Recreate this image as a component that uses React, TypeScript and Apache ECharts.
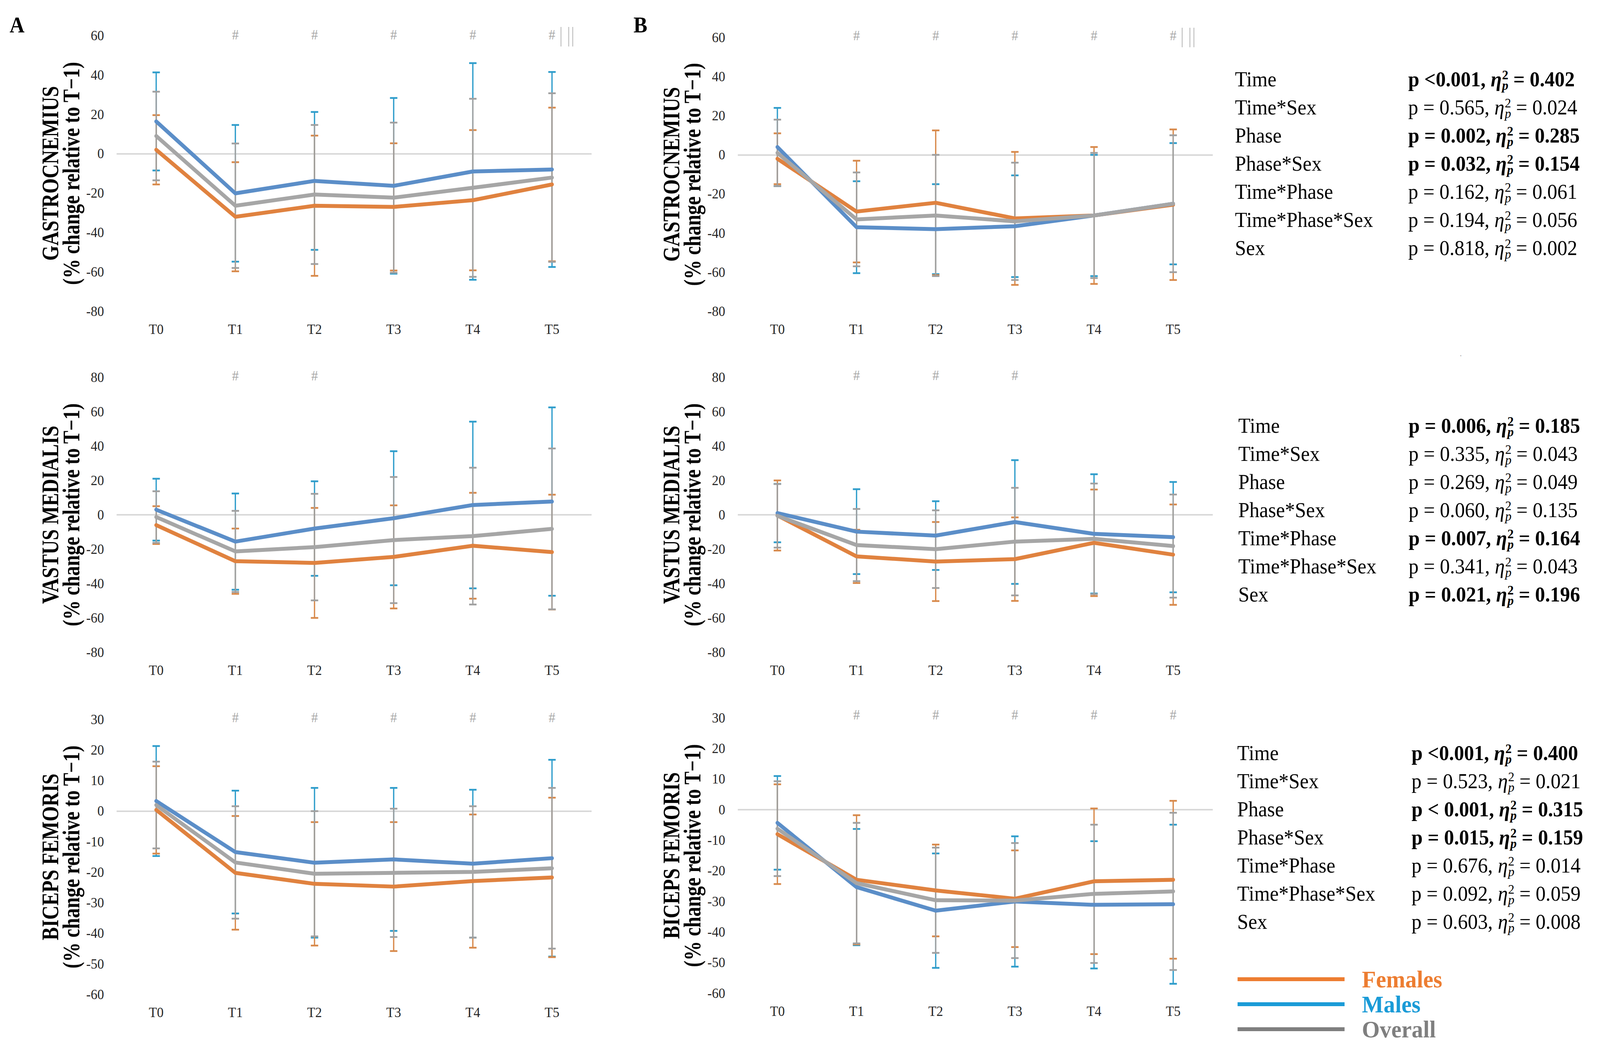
import React, { useEffect, useLayoutEffect, useRef, useState } from 'react';
import * as echarts from 'echarts';

const categories = ['T0', 'T1', 'T2', 'T3', 'T4', 'T5'];

// ---- Gastrocnemius, panel A
const gaFemMean = [2, -32, -26.4, -27, -23.6, -15.6];
const gaFemSd = [17.6, 27.7, 35.6, 32.3, 35.6, 39];
const gaMalMean = [16.4, -20.1, -13.8, -16.3, -9, -8];
const gaMalSd = [24.9, 34.7, 35, 44.6, 55, 49.5];
const gaAllMean = [9, -26.4, -20.7, -22.3, -17.3, -12.1];
const gaAllSd = [22.5, 31.6, 35.3, 38.1, 45.2, 42.8];
const gaMarks = ['', '#', '#', '#', '#', '#|‖'];

// ---- Gastrocnemius, panel B
const gbFemMean = [-2, -29, -24.5, -32.5, -31, -25.5];
const gbFemSd = [13, 26, 37, 34, 35, 38.5];
const gbMalMean = [4, -37, -38, -36.5, -31, -25];
const gbMalSd = [20, 23.5, 23, 26, 31, 31];
const gbAllMean = [1, -33, -31, -34, -31, -25];
const gbAllSd = [17, 24, 31, 30, 32, 35];
const gbMarks = ['', '#', '#', '#', '#', '#|‖'];

// ---- Vastus medialis, panel A
const vaFemMean = [-6, -27, -28, -24.5, -18, -21.7];
const vaFemSd = [11, 19, 32, 30, 30.8, 33.4];
const vaMalMean = [3, -15.6, -8, -2, 5.7, 7.7];
const vaMalSd = [18, 28, 27.5, 39, 48.5, 54.8];
const vaAllMean = [-1.3, -21.3, -18.8, -14.7, -12.4, -8.2];
const vaAllSd = [15, 23.6, 31, 36.7, 39.8, 46.8];
const vaMarks = ['', '#', '#', '', '', ''];

// ---- Vastus medialis, panel B
const vbFemMean = [-0.4, -24.2, -27.2, -25.8, -16.3, -23.2];
const vbFemSd = [20.4, 15.5, 23, 24.3, 31, 29.2];
const vbMalMean = [1, -9.8, -12.1, -4.2, -11.1, -13];
const vbMalSd = [17, 24.7, 20, 36, 34.7, 32.1];
const vbAllMean = [-0.6, -17.6, -20, -15.6, -14, -18.2];
const vbAllSd = [18.5, 21, 22.6, 31.3, 32.2, 30];
const vbMarks = ['', '#', '#', '#', '', ''];

// ---- Biceps femoris, panel A
const baFemMean = [0.4, -20.2, -23.8, -24.7, -22.9, -21.7];
const baFemSd = [14.3, 18.6, 20.2, 21.1, 21.8, 26.1];
const baMalMean = [3.3, -13.4, -16.9, -15.8, -17.2, -15.4];
const baMalSd = [18, 20.1, 24.5, 23.4, 24.2, 32.2];
const baAllMean = [2, -16.8, -20.5, -20.2, -19.9, -18.7];
const baAllSd = [14.2, 18.4, 20.5, 21, 21.5, 26.3];
const baMarks = ['', '#', '#', '#', '#', '#'];

// ---- Biceps femoris, panel B
const bbFemMean = [-8, -22.9, -26.4, -29.1, -23.4, -22.9];
const bbFemSd = [16.3, 21.1, 15, 15.8, 23.8, 25.8];
const bbMalMean = [-4.3, -25.3, -33, -30, -31.1, -30.9];
const bbMalSd = [15.3, 19, 18.7, 21.3, 20.8, 26];
const bbAllMean = [-6.2, -24, -29.6, -29.7, -27.5, -26.7];
const bbAllSd = [15.5, 19.7, 17.2, 18.8, 22.6, 25.7];
const bbMarks = ['', '#', '#', '#', '#', '#'];

// ---- Statistics tables
const statLabels = ['Time', 'Time*Sex', 'Phase', 'Phase*Sex', 'Time*Phase', 'Time*Phase*Sex', 'Sex'];
const gaStatP = ['p <0.001', 'p = 0.565', 'p = 0.002', 'p = 0.032', 'p = 0.162', 'p = 0.194', 'p = 0.818'];
const gaStatEta = ['0.402', '0.024', '0.285', '0.154', '0.061', '0.056', '0.002'];
const gaStatBold = [true, false, true, true, false, false, false];
const vmStatP = ['p = 0.006', 'p = 0.335', 'p = 0.269', 'p = 0.060', 'p = 0.007', 'p = 0.341', 'p = 0.021'];
const vmStatEta = ['0.185', '0.043', '0.049', '0.135', '0.164', '0.043', '0.196'];
const vmStatBold = [true, false, false, false, true, false, true];
const bfStatP = ['p <0.001', 'p = 0.523', 'p < 0.001', 'p = 0.015', 'p = 0.676', 'p = 0.092', 'p = 0.603'];
const bfStatEta = ['0.400', '0.021', '0.315', '0.159', '0.014', '0.059', '0.008'];
const bfStatBold = [true, false, true, true, false, false, false];

const legendNames = ['Females', 'Males', 'Overall'];

// ---- Styles / layout
const W = 4322;
const H = 2678;
const FONT = '"Liberation Serif", "Times New Roman", serif';
const C = {
  femLine: '#E0823F',
  malLine: '#5B8EC8',
  allLine: '#A6A6A6',
  femBar: '#D88A4C',
  malBar: '#2F9DCB',
  allBar: '#A0A0A0',
  femLegend: '#ED7D31',
  malLegend: '#1A9BD7',
  allLegend: '#7F7F7F',
  label: '#262626',
  mark: '#8E8E8E',
  bars: '#B5B5B5',
};
const GRID_W = 1283;

const panels = [
  { muscle: 'GASTROCNEMIUS', left: 315, top: 91, height: 706, min: -80, max: 60, interval: 20, markDy: -2,
    fm: gaFemMean, fs: gaFemSd, mm: gaMalMean, ms: gaMalSd, am: gaAllMean, as: gaAllSd, marks: gaMarks },
  { muscle: 'GASTROCNEMIUS', left: 1993, top: 96, height: 701, min: -80, max: 60, interval: 20, markDy: -5,
    fm: gbFemMean, fs: gbFemSd, mm: gbMalMean, ms: gbMalSd, am: gbAllMean, as: gbAllSd, marks: gbMarks },
  { muscle: 'VASTUS MEDIALIS', left: 315, top: 966, height: 704, min: -80, max: 80, interval: 20, markDy: -4,
    fm: vaFemMean, fs: vaFemSd, mm: vaMalMean, ms: vaMalSd, am: vaAllMean, as: vaAllSd, marks: vaMarks },
  { muscle: 'VASTUS MEDIALIS', left: 1993, top: 966, height: 704, min: -80, max: 80, interval: 20, markDy: -5,
    fm: vbFemMean, fs: vbFemSd, mm: vbMalMean, ms: vbMalSd, am: vbAllMean, as: vbAllSd, marks: vbMarks },
  { muscle: 'BICEPS FEMORIS', left: 315, top: 1842, height: 704, min: -60, max: 30, interval: 10, markDy: -5,
    fm: baFemMean, fs: baFemSd, mm: baMalMean, ms: baMalSd, am: baAllMean, as: baAllSd, marks: baMarks },
  { muscle: 'BICEPS FEMORIS', left: 1993, top: 1838, height: 705, min: -60, max: 30, interval: 10, markDy: -8,
    fm: bbFemMean, fs: bbFemSd, mm: bbMalMean, ms: bbMalSd, am: bbAllMean, as: bbAllSd, marks: bbMarks },
];

const tables = [
  { labelX: 3336, valX: 3804, y0: 203, p: gaStatP, eta: gaStatEta, bold: gaStatBold },
  { labelX: 3345, valX: 3805, y0: 1090, p: vmStatP, eta: vmStatEta, bold: vmStatBold },
  { labelX: 3342, valX: 3813, y0: 1928, p: bfStatP, eta: bfStatEta, bold: bfStatBold },
];
const ROW_PITCH = 72;

let measureCtx: CanvasRenderingContext2D | null = null;
function measure(text: string, font: string): number {
  if (!measureCtx) measureCtx = document.createElement('canvas').getContext('2d');
  if (!measureCtx) return text.length * 20;
  measureCtx.font = font;
  return measureCtx.measureText(text).width;
}

function errorBarSeries(idx: number, name: string, mean: number[], sd: number[], color: string) {
  return {
    type: 'custom',
    name,
    xAxisIndex: idx,
    yAxisIndex: idx,
    silent: true,
    clip: false,
    encode: { x: 0, y: [1, 2] },
    data: mean.map((m, i) => [i, m - sd[i], m + sd[i]]),
    renderItem: (_params: any, api: any) => {
      const x = api.value(0);
      const lo = api.coord([x, api.value(1)]);
      const hi = api.coord([x, api.value(2)]);
      const cap = 10;
      return {
        type: 'group',
        children: [
          { type: 'line', shape: { x1: hi[0], y1: hi[1], x2: lo[0], y2: lo[1] }, style: { stroke: color, lineWidth: 3.5 } },
          { type: 'line', shape: { x1: hi[0] - cap, y1: hi[1], x2: hi[0] + cap, y2: hi[1] }, style: { stroke: color, lineWidth: 4.5 } },
          { type: 'line', shape: { x1: lo[0] - cap, y1: lo[1], x2: lo[0] + cap, y2: lo[1] }, style: { stroke: color, lineWidth: 4.5 } },
        ],
      };
    },
  };
}

function lineSeries(idx: number, name: string, mean: number[], color: string) {
  return {
    type: 'line',
    name,
    xAxisIndex: idx,
    yAxisIndex: idx,
    data: mean,
    symbol: 'none',
    showSymbol: false,
    silent: true,
    lineStyle: { color, width: 10, cap: 'round', join: 'round' },
    itemStyle: { color },
  };
}

function buildOption() {
  const grid: any[] = [];
  const xAxis: any[] = [];
  const yAxis: any[] = [];
  const series: any[] = [];
  const graphic: any[] = [];

  panels.forEach((p, i) => {
    grid.push({ left: p.left, top: p.top, width: GRID_W, height: p.height, containLabel: false, outerBoundsMode: 'none' });
    xAxis.push({
      type: 'category', gridIndex: i, data: categories, boundaryGap: true,
      axisLine: { show: false, onZero: false }, axisTick: { show: false }, splitLine: { show: false },
      axisLabel: { margin: 28, fontSize: 36, color: C.label, fontFamily: FONT },
    });
    yAxis.push({
      type: 'value', gridIndex: i, min: p.min, max: p.max, interval: p.interval,
      axisLine: { show: false }, axisTick: { show: false }, splitLine: { show: false },
      axisLabel: { margin: 34, fontSize: 36, color: C.label, fontFamily: FONT },
    });

    // annotation marks (#, |, ‖) + zero reference line
    series.push({
      type: 'scatter', name: 'marks', xAxisIndex: i, yAxisIndex: i, silent: true,
      symbolSize: 1, itemStyle: { color: 'rgba(0,0,0,0)' },
      data: p.marks.map((t, k) => ({ value: [k, p.max], name: t })).filter((d) => d.name),
      label: {
        show: true, position: 'inside', align: 'left', verticalAlign: 'middle', offset: [-9, p.markDy],
        formatter: (q: any) => (q.name === '#|‖' ? '{h|#}{b||}{b|||}' : '{h|#}'),
        rich: {
          h: { fontSize: 36, color: C.mark, fontFamily: FONT },
          b: { fontSize: 54, color: C.bars, fontFamily: FONT, padding: [0, 0, 0, 10] },
        },
      },
      markLine: {
        silent: true, z: 1, symbol: ['none', 'none'], label: { show: false },
        lineStyle: { color: '#D9D9D9', width: 4, type: 'solid' },
        data: [{ yAxis: 0 }],
      },
    });

    series.push(errorBarSeries(i, 'Males SD', p.mm, p.ms, C.malBar));
    series.push(errorBarSeries(i, 'Females SD', p.fm, p.fs, C.femBar));
    series.push(errorBarSeries(i, 'Overall SD', p.am, p.as, C.allBar));
    series.push(lineSeries(i, 'Females', p.fm, C.femLine));
    series.push(lineSeries(i, 'Males', p.mm, C.malLine));
    series.push(lineSeries(i, 'Overall', p.am, C.allLine));

    // rotated axis titles
    const cy = p.top + p.height / 2;
    graphic.push({
      type: 'text', x: p.left - 180, y: cy, rotation: Math.PI / 2, scaleY: 1.3, silent: true,
      style: { text: p.muscle, fontFamily: FONT, fontWeight: 'bold', fontSize: 50, fill: '#000', align: 'center', verticalAlign: 'middle' },
    });
    graphic.push({
      type: 'text', x: p.left - 123, y: cy, rotation: Math.PI / 2, scaleY: 1.3, silent: true,
      style: { text: '(% change relative to T\u22121)', fontFamily: FONT, fontWeight: 'bold', fontSize: 50, fill: '#000', align: 'center', verticalAlign: 'middle' },
    });
  });

  // panel letters
  graphic.push({ type: 'text', x: 46, y: 64, silent: true, style: { text: 'A', fontFamily: FONT, fontWeight: 'bold', fontSize: 56, fill: '#000', align: 'center', verticalAlign: 'middle' } });
  graphic.push({ type: 'text', x: 1730, y: 64, silent: true, style: { text: 'B', fontFamily: FONT, fontWeight: 'bold', fontSize: 56, fill: '#000', align: 'center', verticalAlign: 'middle' } });
  graphic.push({ type: 'text', x: 3946, y: 905, silent: true, style: { text: '.', fontFamily: FONT, fontSize: 20, fill: '#999', align: 'center', verticalAlign: 'middle' } });

  // statistics tables
  tables.forEach((t) => {
    statLabels.forEach((lab, r) => {
      const y = t.y0 + r * ROW_PITCH;
      const w = t.bold[r] ? 'bold' : 'normal';
      graphic.push({ type: 'text', x: t.labelX, y, silent: true, style: { text: lab, fontFamily: FONT, fontSize: 54, fill: '#000', verticalAlign: 'middle' } });
      const pre = t.p[r] + ', ';
      const mainFont = `${w} 54px "Liberation Serif"`;
      const etaFont = `italic ${w} 54px "Liberation Serif"`;
      const smallFont = `${w} 34px "Liberation Serif"`;
      const smallItFont = `italic ${w} 34px "Liberation Serif"`;
      const x1 = t.valX;
      const xEta = x1 + measure(pre, mainFont);
      const xStack = xEta + measure('\u03B7', etaFont) + 1;
      const wStack = Math.max(measure('2', smallFont), measure('p', smallItFont));
      const xPost = xStack + wStack;
      graphic.push({ type: 'text', x: x1, y, silent: true, style: { text: pre, fontFamily: FONT, fontWeight: w, fontSize: 54, fill: '#000', verticalAlign: 'middle' } });
      graphic.push({ type: 'text', x: xEta, y, silent: true, style: { text: '\u03B7', fontFamily: FONT, fontWeight: w, fontStyle: 'italic', fontSize: 54, fill: '#000', verticalAlign: 'middle' } });
      graphic.push({ type: 'text', x: xStack, y: y - 12, silent: true, style: { text: '2', fontFamily: FONT, fontWeight: w, fontSize: 34, fill: '#000', verticalAlign: 'middle' } });
      graphic.push({ type: 'text', x: xStack, y: y + 15, silent: true, style: { text: 'p', fontFamily: FONT, fontWeight: w, fontStyle: 'italic', fontSize: 34, fill: '#000', verticalAlign: 'middle' } });
      graphic.push({ type: 'text', x: xPost, y, silent: true, style: { text: ' = ' + t.eta[r], fontFamily: FONT, fontWeight: w, fontSize: 54, fill: '#000', verticalAlign: 'middle' } });
    });
  });

  const legendColors = [C.femLegend, C.malLegend, C.allLegend];
  return {
    animation: false,
    backgroundColor: '#ffffff',
    grid,
    xAxis,
    yAxis,
    series,
    graphic,
    legend: {
      show: true,
      orient: 'vertical',
      left: 3343,
      top: 2476,
      padding: 0,
      itemWidth: 289,
      itemHeight: 10,
      itemGap: 2,
      selectedMode: false,
      data: legendNames.map((n, k) => ({
        name: n,
        icon: 'rect',
        itemStyle: { color: legendColors[k], borderWidth: 0 },
        textStyle: { color: legendColors[k] },
      })),
      textStyle: { fontFamily: FONT, fontWeight: 'bold', fontSize: 62, lineHeight: 58, padding: [0, 0, 0, 42] },
    },
  };
}

export default function App() {
  const ref = useRef<HTMLDivElement>(null);
  const [scale, setScale] = useState<[number, number]>([1, 1]);

  useLayoutEffect(() => {
    const vw = document.documentElement.clientWidth || window.innerWidth || W;
    const vh = window.innerHeight || document.documentElement.clientHeight || H;
    setScale([Math.min(1, vw / W), Math.min(1, vh / H)]);
  }, []);

  useEffect(() => {
    if (!ref.current) return;
    const chart = echarts.init(ref.current, undefined, { renderer: 'svg', width: W, height: H });
    chart.setOption(buildOption() as any);
    return () => chart.dispose();
  }, []);

  return (
    <div style={{ position: 'fixed', left: 0, top: 0, width: '100vw', height: '100vh', overflow: 'hidden', background: '#ffffff' }}>
      <div
        ref={ref}
        style={{
          position: 'absolute', left: 0, top: 0, width: W, height: H, background: '#ffffff',
          transformOrigin: '0 0', transform: `scale(${scale[0]}, ${scale[1]})`,
        }}
      />
    </div>
  );
}
